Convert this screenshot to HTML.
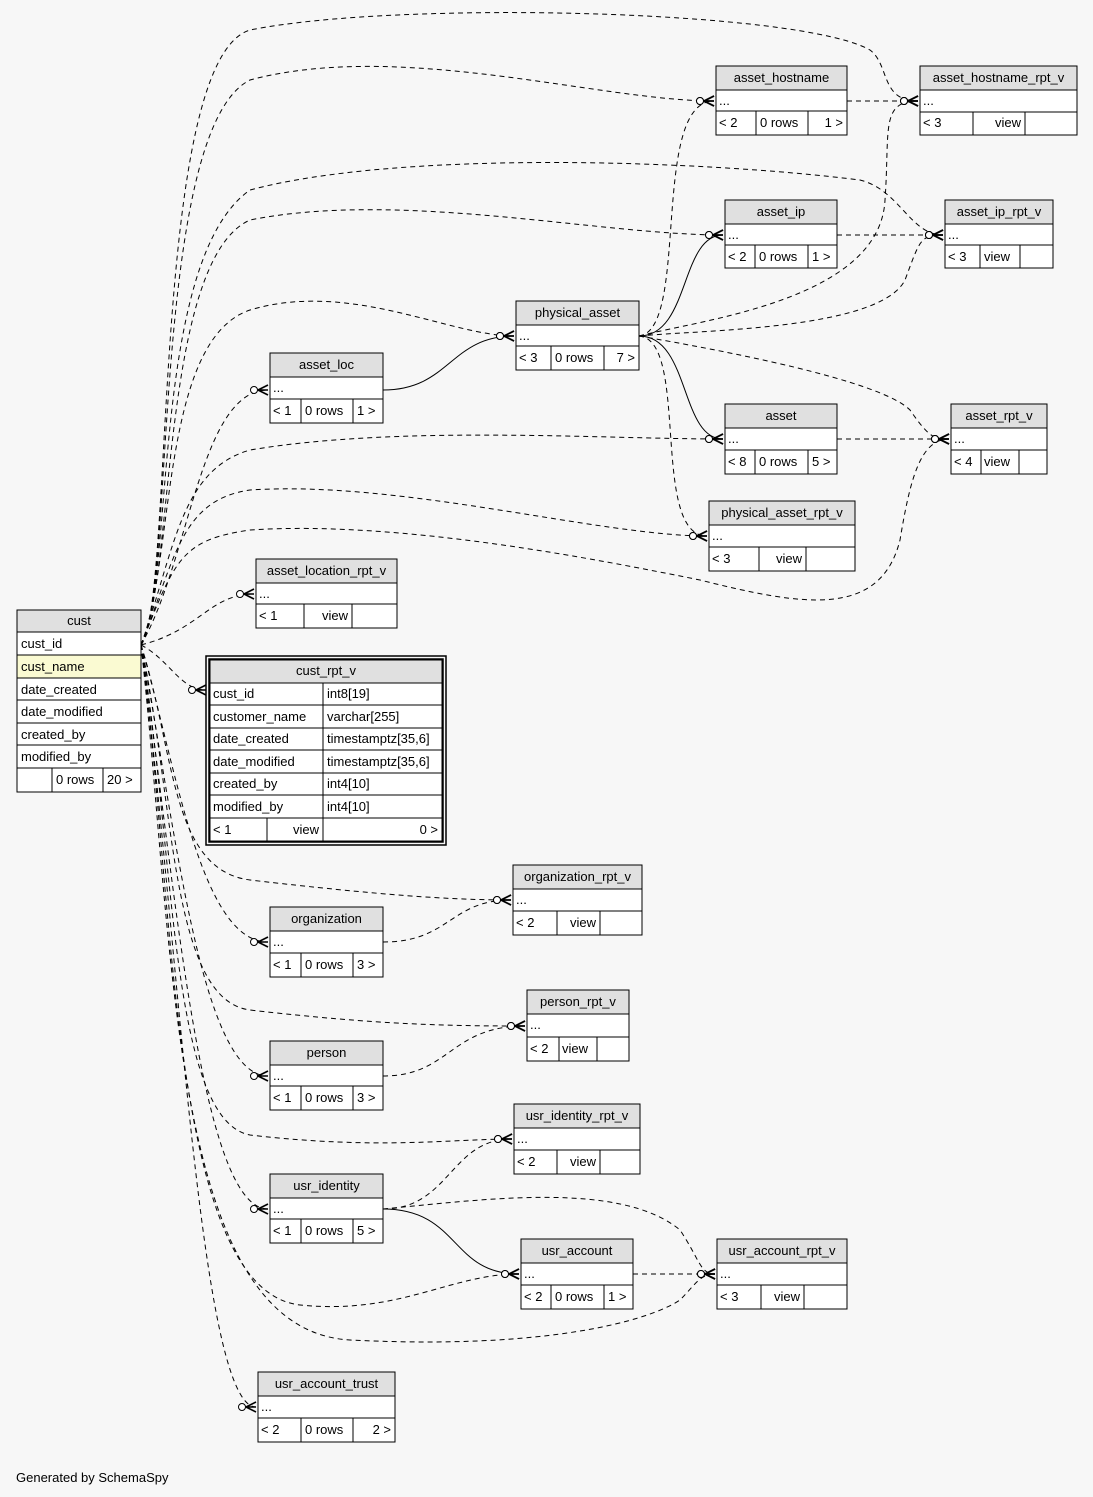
<!DOCTYPE html>
<html><head><meta charset="utf-8"><style>
body{margin:0;background:#f7f7f7;}
svg{display:block;font-family:"Liberation Sans",Arial,sans-serif;font-size:13px;}
.h{fill:#e0e0e0;stroke:#000;stroke-width:1}
.r{fill:#fff;stroke:#000;stroke-width:1}
.e{fill:none;stroke:#000;stroke-width:1;stroke-dasharray:5,4}
.s{fill:none;stroke:#000;stroke-width:1}
</style></head><body>
<svg width="1093" height="1497" viewBox="0 0 1093 1497" xmlns="http://www.w3.org/2000/svg">
<defs>
<marker id="m" markerUnits="userSpaceOnUse" markerWidth="22" markerHeight="14" refX="20" refY="7" orient="auto">
<circle cx="6" cy="7" r="3.5" fill="#fff" stroke="#000"/>
<path d="M10,7 L20,7 M10,7 L20,2 M10,7 L20,12" stroke="#000" stroke-width="1.6" fill="none"/>
</marker>
</defs>
<rect width="1093" height="1497" fill="#f7f7f7"/>
<g id="edges">
<path class="e" marker-end="url(#m)" d="M141,645 C175,600 150,60 250,30 C400,0 800,10 870,50 C890,65 880,101 918,101"/>
<path class="e" marker-end="url(#m)" d="M141,645 C175,600 150,130 250,80 C400,40 600,101 714,101"/>
<path class="e" marker-end="url(#m)" d="M141,645 C175,580 150,260 250,190 C400,150 700,160 860,180 C900,190 910,235 943,235"/>
<path class="e" marker-end="url(#m)" d="M141,645 C175,580 160,260 250,220 C400,190 600,235 723,235"/>
<path class="e" marker-end="url(#m)" d="M141,645 C175,560 160,340 250,310 C350,280 450,336 514,336"/>
<path class="e" marker-end="url(#m)" d="M141,645 C190,560 200,390 268,390"/>
<path class="e" marker-end="url(#m)" d="M141,645 C175,550 180,470 250,450 C400,425 600,439 723,439"/>
<path class="e" marker-end="url(#m)" d="M141,645 C175,560 180,500 250,490 C400,480 600,536 707,536"/>
<path class="e" marker-end="url(#m)" d="M141,645 C175,560 180,540 250,530 C400,520 600,560 700,580 C800,605 880,620 900,540 C910,480 920,439 949,439"/>
<path class="e" marker-end="url(#m)" d="M141,645 C200,630 210,594 254,594"/>
<path class="e" marker-end="url(#m)" d="M141,645 C170,660 180,690 206,690"/>
<path class="e" marker-end="url(#m)" d="M141,645 C175,750 170,870 250,880 C380,895 450,900 511,900"/>
<path class="e" marker-end="url(#m)" d="M141,645 C175,760 200,942 268,942"/>
<path class="e" marker-end="url(#m)" d="M141,645 C175,800 170,1000 250,1010 C380,1025 450,1026 525,1026"/>
<path class="e" marker-end="url(#m)" d="M141,645 C175,820 200,1076 268,1076"/>
<path class="e" marker-end="url(#m)" d="M141,645 C175,850 170,1120 250,1135 C380,1150 450,1139 512,1139"/>
<path class="e" marker-end="url(#m)" d="M141,645 C175,880 200,1209 268,1209"/>
<path class="e" marker-end="url(#m)" d="M141,645 C175,900 170,1290 300,1305 C400,1315 450,1274 519,1274"/>
<path class="e" marker-end="url(#m)" d="M141,645 C175,950 170,1330 350,1340 C550,1350 650,1320 680,1300 C695,1285 700,1274 715,1274"/>
<path class="e" marker-end="url(#m)" d="M141,645 C180,950 200,1407 256,1407"/>
<path class="e" marker-end="url(#m)" d="M847,101 L918,101"/>
<path class="e" marker-end="url(#m)" d="M837,235 L943,235"/>
<path class="e" marker-end="url(#m)" d="M837,439 L949,439"/>
<path class="s" marker-end="url(#m)" d="M639,336 C690,336 680,235 723,235"/>
<path class="s" marker-end="url(#m)" d="M639,336 C690,336 680,439 723,439"/>
<path class="s" marker-end="url(#m)" d="M383,390 C450,390 450,336 514,336"/>
<path class="e" marker-end="url(#m)" d="M639,336 C690,330 650,101 714,101"/>
<path class="e" marker-end="url(#m)" d="M639,336 C690,340 650,536 707,536"/>
<path class="e" marker-end="url(#m)" d="M639,336 C700,320 880,300 885,200 C890,130 880,101 918,101"/>
<path class="e" marker-end="url(#m)" d="M639,336 C700,330 880,330 905,280 C920,240 920,235 943,235"/>
<path class="e" marker-end="url(#m)" d="M639,336 C720,350 880,380 910,410 C930,439 935,439 949,439"/>
<path class="e" marker-end="url(#m)" d="M383,942 C450,942 450,900 511,900"/>
<path class="e" marker-end="url(#m)" d="M383,1076 C450,1076 450,1026 525,1026"/>
<path class="e" marker-end="url(#m)" d="M383,1209 C450,1209 450,1139 512,1139"/>
<path class="s" marker-end="url(#m)" d="M383,1209 C460,1209 450,1274 519,1274"/>
<path class="e" marker-end="url(#m)" d="M383,1209 C480,1200 620,1180 680,1230 C700,1260 700,1274 715,1274"/>
<path class="e" marker-end="url(#m)" d="M633,1274 L715,1274"/>
</g>

<!-- cust -->
<g>
<rect class="h" x="17" y="610" width="124" height="22"/>
<text x="79" y="625" text-anchor="middle">cust</text>
<rect class="r" x="17" y="632" width="124" height="23"/><text x="21" y="648">cust_id</text>
<rect class="r" x="17" y="655" width="124" height="23" style="fill:#fafad2"/><text x="21" y="671">cust_name</text>
<rect class="r" x="17" y="678" width="124" height="22"/><text x="21" y="694">date_created</text>
<rect class="r" x="17" y="700" width="124" height="23"/><text x="21" y="716">date_modified</text>
<rect class="r" x="17" y="723" width="124" height="22"/><text x="21" y="739">created_by</text>
<rect class="r" x="17" y="745" width="124" height="23"/><text x="21" y="761">modified_by</text>
<rect class="r" x="17" y="768" width="35" height="24"/><rect class="r" x="52" y="768" width="51" height="24"/><rect class="r" x="103" y="768" width="38" height="24"/>
<text x="56" y="784">0 rows</text><text x="107" y="784">20 &gt;</text>
</g>

<!-- cust_rpt_v -->
<g>
<rect x="206" y="656" width="240" height="189" fill="none" stroke="#000" stroke-width="1.5"/>
<rect x="209" y="659" width="234" height="183" fill="none" stroke="#000" stroke-width="1.5"/>
<rect class="h" x="210" y="660" width="232" height="23"/>
<text x="326" y="675" text-anchor="middle">cust_rpt_v</text>
<rect class="r" x="210" y="683" width="113" height="22"/><rect class="r" x="323" y="683" width="119" height="22"/>
<rect class="r" x="210" y="705" width="113" height="23"/><rect class="r" x="323" y="705" width="119" height="23"/>
<rect class="r" x="210" y="728" width="113" height="22"/><rect class="r" x="323" y="728" width="119" height="22"/>
<rect class="r" x="210" y="750" width="113" height="23"/><rect class="r" x="323" y="750" width="119" height="23"/>
<rect class="r" x="210" y="773" width="113" height="22"/><rect class="r" x="323" y="773" width="119" height="22"/>
<rect class="r" x="210" y="795" width="113" height="23"/><rect class="r" x="323" y="795" width="119" height="23"/>
<rect class="r" x="210" y="818" width="57" height="23"/><rect class="r" x="267" y="818" width="56" height="23"/><rect class="r" x="323" y="818" width="119" height="23"/>
<text x="213" y="698">cust_id</text><text x="327" y="698">int8[19]</text>
<text x="213" y="721">customer_name</text><text x="327" y="721">varchar[255]</text>
<text x="213" y="743">date_created</text><text x="327" y="743">timestamptz[35,6]</text>
<text x="213" y="766">date_modified</text><text x="327" y="766">timestamptz[35,6]</text>
<text x="213" y="788">created_by</text><text x="327" y="788">int4[10]</text>
<text x="213" y="811">modified_by</text><text x="327" y="811">int4[10]</text>
<text x="213" y="834">&lt; 1</text><text x="319" y="834" text-anchor="end">view</text><text x="438" y="834" text-anchor="end">0 &gt;</text>
</g>

<!-- generic tables: x,y,w, cell splits -->
<g>
<!-- asset_hostname -->
<rect class="h" x="716" y="66" width="131" height="24"/><text x="781.5" y="82" text-anchor="middle">asset_hostname</text>
<rect class="r" x="716" y="90" width="131" height="21"/><text x="719" y="105">...</text>
<rect class="r" x="716" y="111" width="40" height="24"/><rect class="r" x="756" y="111" width="52" height="24"/><rect class="r" x="808" y="111" width="39" height="24"/>
<text x="719" y="127">&lt; 2</text><text x="760" y="127">0 rows</text><text x="843" y="127" text-anchor="end">1 &gt;</text>

<!-- asset_hostname_rpt_v -->
<rect class="h" x="920" y="66" width="157" height="24"/><text x="998.5" y="82" text-anchor="middle">asset_hostname_rpt_v</text>
<rect class="r" x="920" y="90" width="157" height="22"/><text x="923" y="105">...</text>
<rect class="r" x="920" y="112" width="53" height="23"/><rect class="r" x="973" y="112" width="52" height="23"/><rect class="r" x="1025" y="112" width="52" height="23"/>
<text x="923" y="127">&lt; 3</text><text x="1021" y="127" text-anchor="end">view</text>

<!-- asset_ip -->
<rect class="h" x="725" y="200" width="112" height="24"/><text x="781" y="216" text-anchor="middle">asset_ip</text>
<rect class="r" x="725" y="224" width="112" height="21"/><text x="728" y="239">...</text>
<rect class="r" x="725" y="245" width="30" height="23"/><rect class="r" x="755" y="245" width="53" height="23"/><rect class="r" x="808" y="245" width="29" height="23"/>
<text x="728" y="261">&lt; 2</text><text x="759" y="261">0 rows</text><text x="812" y="261">1 &gt;</text>

<!-- asset_ip_rpt_v -->
<rect class="h" x="945" y="200" width="108" height="24"/><text x="999" y="216" text-anchor="middle">asset_ip_rpt_v</text>
<rect class="r" x="945" y="224" width="108" height="21"/><text x="948" y="239">...</text>
<rect class="r" x="945" y="245" width="35" height="23"/><rect class="r" x="980" y="245" width="40" height="23"/><rect class="r" x="1020" y="245" width="33" height="23"/>
<text x="948" y="261">&lt; 3</text><text x="984" y="261">view</text>

<!-- physical_asset -->
<rect class="h" x="516" y="301" width="123" height="24"/><text x="577.5" y="317" text-anchor="middle">physical_asset</text>
<rect class="r" x="516" y="325" width="123" height="21"/><text x="519" y="340">...</text>
<rect class="r" x="516" y="346" width="35" height="24"/><rect class="r" x="551" y="346" width="53" height="24"/><rect class="r" x="604" y="346" width="35" height="24"/>
<text x="519" y="362">&lt; 3</text><text x="555" y="362">0 rows</text><text x="635" y="362" text-anchor="end">7 &gt;</text>

<!-- asset_loc -->
<rect class="h" x="270" y="353" width="113" height="24"/><text x="326.5" y="369" text-anchor="middle">asset_loc</text>
<rect class="r" x="270" y="377" width="113" height="22"/><text x="273" y="392">...</text>
<rect class="r" x="270" y="399" width="31" height="24"/><rect class="r" x="301" y="399" width="52" height="24"/><rect class="r" x="353" y="399" width="30" height="24"/>
<text x="273" y="415">&lt; 1</text><text x="305" y="415">0 rows</text><text x="357" y="415">1 &gt;</text>

<!-- asset -->
<rect class="h" x="725" y="404" width="112" height="24"/><text x="781" y="420" text-anchor="middle">asset</text>
<rect class="r" x="725" y="428" width="112" height="22"/><text x="728" y="443">...</text>
<rect class="r" x="725" y="450" width="30" height="24"/><rect class="r" x="755" y="450" width="53" height="24"/><rect class="r" x="808" y="450" width="29" height="24"/>
<text x="728" y="466">&lt; 8</text><text x="759" y="466">0 rows</text><text x="812" y="466">5 &gt;</text>

<!-- asset_rpt_v -->
<rect class="h" x="951" y="404" width="96" height="24"/><text x="999" y="420" text-anchor="middle">asset_rpt_v</text>
<rect class="r" x="951" y="428" width="96" height="22"/><text x="954" y="443">...</text>
<rect class="r" x="951" y="450" width="30" height="24"/><rect class="r" x="981" y="450" width="38" height="24"/><rect class="r" x="1019" y="450" width="28" height="24"/>
<text x="954" y="466">&lt; 4</text><text x="984" y="466">view</text>

<!-- physical_asset_rpt_v -->
<rect class="h" x="709" y="501" width="146" height="24"/><text x="782" y="517" text-anchor="middle">physical_asset_rpt_v</text>
<rect class="r" x="709" y="525" width="146" height="22"/><text x="712" y="540">...</text>
<rect class="r" x="709" y="547" width="50" height="24"/><rect class="r" x="759" y="547" width="47" height="24"/><rect class="r" x="806" y="547" width="49" height="24"/>
<text x="712" y="563">&lt; 3</text><text x="802" y="563" text-anchor="end">view</text>

<!-- asset_location_rpt_v -->
<rect class="h" x="256" y="559" width="141" height="24"/><text x="326.5" y="575" text-anchor="middle">asset_location_rpt_v</text>
<rect class="r" x="256" y="583" width="141" height="21"/><text x="259" y="598">...</text>
<rect class="r" x="256" y="604" width="48" height="24"/><rect class="r" x="304" y="604" width="48" height="24"/><rect class="r" x="352" y="604" width="45" height="24"/>
<text x="259" y="620">&lt; 1</text><text x="348" y="620" text-anchor="end">view</text>

<!-- organization_rpt_v -->
<rect class="h" x="513" y="865" width="129" height="24"/><text x="577.5" y="881" text-anchor="middle">organization_rpt_v</text>
<rect class="r" x="513" y="889" width="129" height="22"/><text x="516" y="904">...</text>
<rect class="r" x="513" y="911" width="44" height="24"/><rect class="r" x="557" y="911" width="43" height="24"/><rect class="r" x="600" y="911" width="42" height="24"/>
<text x="516" y="927">&lt; 2</text><text x="596" y="927" text-anchor="end">view</text>

<!-- organization -->
<rect class="h" x="270" y="907" width="113" height="24"/><text x="326.5" y="923" text-anchor="middle">organization</text>
<rect class="r" x="270" y="931" width="113" height="22"/><text x="273" y="946">...</text>
<rect class="r" x="270" y="953" width="31" height="24"/><rect class="r" x="301" y="953" width="52" height="24"/><rect class="r" x="353" y="953" width="30" height="24"/>
<text x="273" y="969">&lt; 1</text><text x="305" y="969">0 rows</text><text x="357" y="969">3 &gt;</text>

<!-- person_rpt_v -->
<rect class="h" x="527" y="990" width="102" height="24"/><text x="578" y="1006" text-anchor="middle">person_rpt_v</text>
<rect class="r" x="527" y="1014" width="102" height="23"/><text x="530" y="1029">...</text>
<rect class="r" x="527" y="1037" width="32" height="24"/><rect class="r" x="559" y="1037" width="38" height="24"/><rect class="r" x="597" y="1037" width="32" height="24"/>
<text x="530" y="1053">&lt; 2</text><text x="562" y="1053">view</text>

<!-- person -->
<rect class="h" x="270" y="1041" width="113" height="24"/><text x="326.5" y="1057" text-anchor="middle">person</text>
<rect class="r" x="270" y="1065" width="113" height="21"/><text x="273" y="1080">...</text>
<rect class="r" x="270" y="1086" width="31" height="24"/><rect class="r" x="301" y="1086" width="52" height="24"/><rect class="r" x="353" y="1086" width="30" height="24"/>
<text x="273" y="1102">&lt; 1</text><text x="305" y="1102">0 rows</text><text x="357" y="1102">3 &gt;</text>

<!-- usr_identity_rpt_v -->
<rect class="h" x="514" y="1104" width="126" height="24"/><text x="577" y="1120" text-anchor="middle">usr_identity_rpt_v</text>
<rect class="r" x="514" y="1128" width="126" height="22"/><text x="517" y="1143">...</text>
<rect class="r" x="514" y="1150" width="43" height="24"/><rect class="r" x="557" y="1150" width="43" height="24"/><rect class="r" x="600" y="1150" width="40" height="24"/>
<text x="517" y="1166">&lt; 2</text><text x="596" y="1166" text-anchor="end">view</text>

<!-- usr_identity -->
<rect class="h" x="270" y="1174" width="113" height="24"/><text x="326.5" y="1190" text-anchor="middle">usr_identity</text>
<rect class="r" x="270" y="1198" width="113" height="21"/><text x="273" y="1213">...</text>
<rect class="r" x="270" y="1219" width="31" height="24"/><rect class="r" x="301" y="1219" width="52" height="24"/><rect class="r" x="353" y="1219" width="30" height="24"/>
<text x="273" y="1235">&lt; 1</text><text x="305" y="1235">0 rows</text><text x="357" y="1235">5 &gt;</text>

<!-- usr_account -->
<rect class="h" x="521" y="1239" width="112" height="24"/><text x="577" y="1255" text-anchor="middle">usr_account</text>
<rect class="r" x="521" y="1263" width="112" height="22"/><text x="524" y="1278">...</text>
<rect class="r" x="521" y="1285" width="30" height="24"/><rect class="r" x="551" y="1285" width="53" height="24"/><rect class="r" x="604" y="1285" width="29" height="24"/>
<text x="524" y="1301">&lt; 2</text><text x="555" y="1301">0 rows</text><text x="608" y="1301">1 &gt;</text>

<!-- usr_account_rpt_v -->
<rect class="h" x="717" y="1239" width="130" height="24"/><text x="782" y="1255" text-anchor="middle">usr_account_rpt_v</text>
<rect class="r" x="717" y="1263" width="130" height="22"/><text x="720" y="1278">...</text>
<rect class="r" x="717" y="1285" width="44" height="24"/><rect class="r" x="761" y="1285" width="43" height="24"/><rect class="r" x="804" y="1285" width="43" height="24"/>
<text x="720" y="1301">&lt; 3</text><text x="800" y="1301" text-anchor="end">view</text>

<!-- usr_account_trust -->
<rect class="h" x="258" y="1372" width="137" height="24"/><text x="326.5" y="1388" text-anchor="middle">usr_account_trust</text>
<rect class="r" x="258" y="1396" width="137" height="22"/><text x="261" y="1411">...</text>
<rect class="r" x="258" y="1418" width="43" height="24"/><rect class="r" x="301" y="1418" width="52" height="24"/><rect class="r" x="353" y="1418" width="42" height="24"/>
<text x="261" y="1434">&lt; 2</text><text x="305" y="1434">0 rows</text><text x="391" y="1434" text-anchor="end">2 &gt;</text>
</g>

<text x="16" y="1482">Generated by SchemaSpy</text>
</svg>
</body></html>
